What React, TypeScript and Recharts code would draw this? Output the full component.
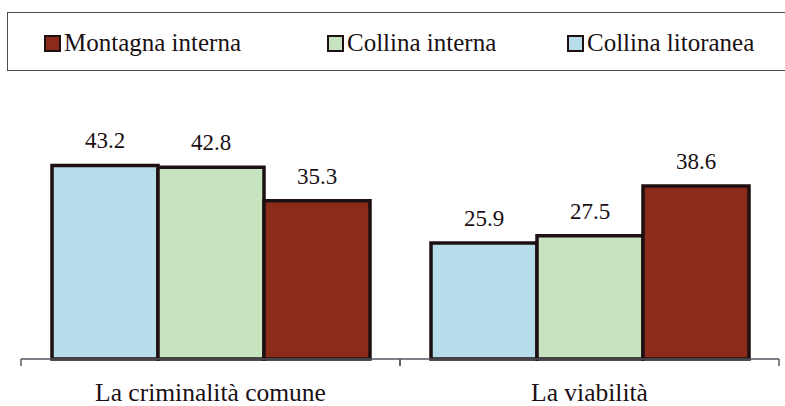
import { BarChart, Bar, XAxis, YAxis, LabelList } from 'recharts';

const categories = ['La criminalità comune', 'La viabilità'];
const collinaLitoranea = [43.2, 25.9];
const collinaInterna = [42.8, 27.5];
const montagnaInterna = [35.3, 38.6];

const SERIES = [
  { key: 'litoranea', name: 'Collina litoranea', values: collinaLitoranea, color: '#b7dcea' },
  { key: 'interna', name: 'Collina interna', values: collinaInterna, color: '#c6e4bf' },
  { key: 'montagna', name: 'Montagna interna', values: montagnaInterna, color: '#8b2c1b' },
];

// legend in the original lists the series in reverse order
const LEGEND_LEFT = [44, 327, 567];

const W = 785;
const H = 406;
const MARGIN = { top: 135, right: 6, left: 21, bottom: 0 };
const HALF_BAND = (W - MARGIN.left - MARGIN.right) / categories.length / 2;
const FONT = 'Liberation Serif';
const OUTLINE = '#1e1012';

const data = categories.map((name, i) => {
  const row: Record<string, string | number> = { name };
  SERIES.forEach(s => { row[s.key] = s.values[i]; });
  return row;
});

function CategoryTick(props: any) {
  const { x, y, payload } = props;
  return (
    <g>
      <line x1={x - HALF_BAND} y1={y} x2={x - HALF_BAND} y2={y + 7} stroke="#55555f" strokeWidth={1.5} />
      <line x1={x + HALF_BAND} y1={y} x2={x + HALF_BAND} y2={y + 7} stroke="#55555f" strokeWidth={1.5} />
      <text x={x} y={y + 42} textAnchor="middle" style={{ fontFamily: FONT }} fontSize={25.5} fill="#1a1014">
        {payload.value}
      </text>
    </g>
  );
}

export default function App() {
  return (
    <div style={{ position: 'absolute', left: 0, top: 0, width: W, height: H, background: '#fff', overflow: 'hidden', fontFamily: FONT }}>
      {/* legend box */}
      <div
        style={{
          position: 'absolute', left: 7, top: 12, width: 800, height: 59,
          border: '1.5px solid #4a4a55', boxSizing: 'border-box',
        }}
      />
      {[...SERIES].reverse().map((s, i) => (
        <div
          key={s.key}
          style={{
            position: 'absolute', left: LEGEND_LEFT[i], top: 28, height: 30,
            display: 'flex', alignItems: 'center', fontFamily: FONT, fontSize: 25, color: '#1a1014',
            whiteSpace: 'nowrap',
          }}
        >
          <span
            style={{
              display: 'inline-block', width: 17, height: 17, background: s.color,
              border: `2.5px solid ${OUTLINE}`, boxSizing: 'border-box', marginRight: 3,
            }}
          />
          {s.name}
        </div>
      ))}
      <div style={{ position: 'absolute', left: 0, top: 0 }}>
        <BarChart width={W} height={H} data={data} margin={MARGIN} barCategoryGap={31} barGap={0} style={{ fontFamily: FONT }}>
          <XAxis
            dataKey="name"
            height={47}
            tickSize={0}
            tickMargin={0}
            tickLine={false}
            axisLine={{ stroke: '#55555f', strokeWidth: 1.5 }}
            tick={<CategoryTick />}
            interval={0}
          />
          <YAxis hide domain={[0, 50]} />
          {SERIES.map(s => (
            <Bar
              key={s.key}
              dataKey={s.key}
              name={s.name}
              fill={s.color}
              stroke={OUTLINE}
              strokeWidth={3.5}
              isAnimationActive={false}
            >
              <LabelList
                dataKey={s.key}
                position="top"
                offset={17}
                style={{ fontFamily: FONT }}
                fontSize={23}
                fill="#1a1014"
                formatter={(v: any) => Number(v).toFixed(1)}
              />
            </Bar>
          ))}
        </BarChart>
      </div>
    </div>
  );
}
